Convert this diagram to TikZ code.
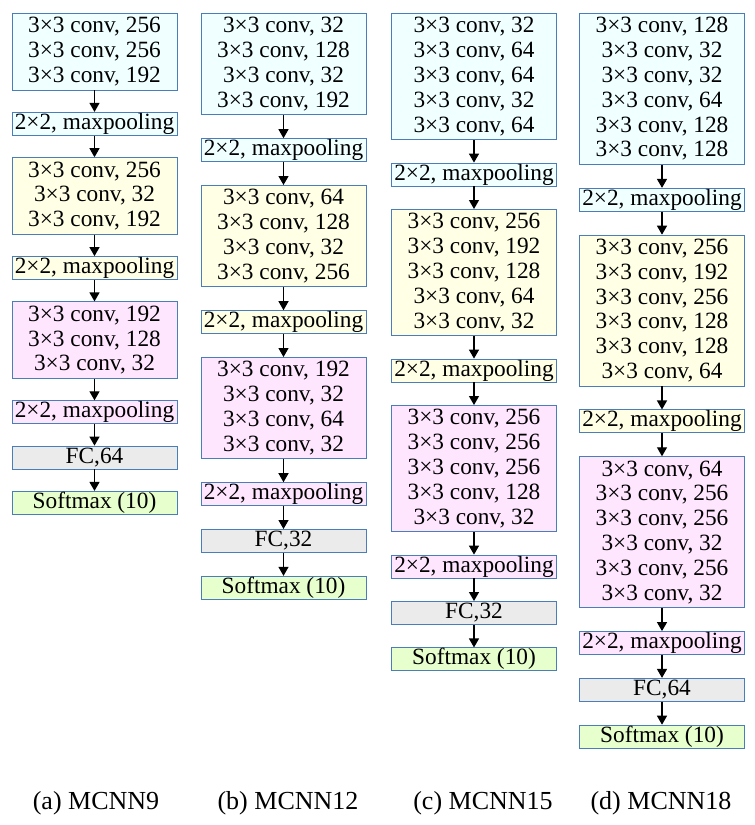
\documentclass[tikz,border=0pt]{standalone}
\usepackage{fontspec}
\setmainfont{Liberation Serif}
\usepackage{xcolor}
\usetikzlibrary{arrows.meta, positioning}

\definecolor{bordblue}{HTML}{4A7EBB}
\definecolor{cyanfill}{HTML}{F0FFFF}
\definecolor{yelfill}{HTML}{FFFFE6}
\definecolor{pinkfill}{HTML}{FFE6FF}
\definecolor{grayfill}{HTML}{EBEBEB}
\definecolor{greenfill}{HTML}{E6FFCC}

\tikzset{
    layer/.style={draw=bordblue, line width=0.8pt, minimum width=165pt, align=center,
        inner xsep=1pt, font=\fontsize{23.3}{24.8}\selectfont},
    convbox/.style={layer, inner ysep=4pt},
    poolbox/.style={layer, text height=16pt, text depth=5pt, inner ysep=1pt},
    arr/.style={-{Triangle[width=10pt,length=9pt]}, line width=1.2pt},
    caption/.style={font=\fontsize{26}{30}\selectfont}
}

\begin{document}
\begin{tikzpicture}[x=1pt, y=1pt, node distance=23pt]
    \useasboundingbox (0,0) rectangle (755,-825);

    % (a) MCNN9
    \begin{scope}[node distance=21.5pt]
    \node[convbox, fill=cyanfill, anchor=north] (a1) at (94.5,-13)
        {3×3 conv, 256\\3×3 conv, 256\\3×3 conv, 192};
    \node[poolbox, fill=cyanfill, below=of a1] (a2) {2×2, maxpooling};
    \node[convbox, fill=yelfill, below=of a2] (a3)
        {3×3 conv, 256\\3×3 conv, 32\\3×3 conv, 192};
    \node[poolbox, fill=yelfill, below=of a3] (a4) {2×2, maxpooling};
    \node[convbox, fill=pinkfill, below=of a4] (a5)
        {3×3 conv, 192\\3×3 conv, 128\\3×3 conv, 32};
    \node[poolbox, fill=pinkfill, below=of a5] (a6) {2×2, maxpooling};
    \node[poolbox, fill=grayfill, below=of a6] (a7) {FC,64};
    \node[poolbox, fill=greenfill, below=of a7] (a8) {Softmax (10)};
    \end{scope}

    % (b) MCNN12
    \node[convbox, fill=cyanfill, anchor=north] (b1) at (283.5,-13)
        {3×3 conv, 32\\3×3 conv, 128\\3×3 conv, 32\\3×3 conv, 192};
    \node[poolbox, fill=cyanfill, below=of b1] (b2) {2×2, maxpooling};
    \node[convbox, fill=yelfill, below=of b2] (b3)
        {3×3 conv, 64\\3×3 conv, 128\\3×3 conv, 32\\3×3 conv, 256};
    \node[poolbox, fill=yelfill, below=of b3] (b4) {2×2, maxpooling};
    \node[convbox, fill=pinkfill, below=of b4] (b5)
        {3×3 conv, 192\\3×3 conv, 32\\3×3 conv, 64\\3×3 conv, 32};
    \node[poolbox, fill=pinkfill, below=of b5] (b6) {2×2, maxpooling};
    \node[poolbox, fill=grayfill, below=of b6] (b7) {FC,32};
    \node[poolbox, fill=greenfill, below=of b7] (b8) {Softmax (10)};

    % (c) MCNN15
    \begin{scope}[node distance=22.6pt]
    \node[convbox, fill=cyanfill, anchor=north] (c1) at (474,-13)
        {3×3 conv, 32\\3×3 conv, 64\\3×3 conv, 64\\3×3 conv, 32\\3×3 conv, 64};
    \node[poolbox, fill=cyanfill, below=of c1] (c2) {2×2, maxpooling};
    \node[convbox, fill=yelfill, below=of c2] (c3)
        {3×3 conv, 256\\3×3 conv, 192\\3×3 conv, 128\\3×3 conv, 64\\3×3 conv, 32};
    \node[poolbox, fill=yelfill, below=of c3] (c4) {2×2, maxpooling};
    \node[convbox, fill=pinkfill, below=of c4] (c5)
        {3×3 conv, 256\\3×3 conv, 256\\3×3 conv, 256\\3×3 conv, 128\\3×3 conv, 32};
    \node[poolbox, fill=pinkfill, below=of c5] (c6) {2×2, maxpooling};
    \node[poolbox, fill=grayfill, below=of c6] (c7) {FC,32};
    \node[poolbox, fill=greenfill, below=of c7] (c8) {Softmax (10)};
    \end{scope}

    % (d) MCNN18
    \node[convbox, fill=cyanfill, anchor=north] (d1) at (662,-13)
        {3×3 conv, 128\\3×3 conv, 32\\3×3 conv, 32\\3×3 conv, 64\\3×3 conv, 128\\3×3 conv, 128};
    \node[poolbox, fill=cyanfill, below=of d1] (d2) {2×2, maxpooling};
    \node[convbox, fill=yelfill, below=of d2] (d3)
        {3×3 conv, 256\\3×3 conv, 192\\3×3 conv, 256\\3×3 conv, 128\\3×3 conv, 128\\3×3 conv, 64};
    \node[poolbox, fill=yelfill, below=of d3] (d4) {2×2, maxpooling};
    \node[convbox, fill=pinkfill, below=of d4] (d5)
        {3×3 conv, 64\\3×3 conv, 256\\3×3 conv, 256\\3×3 conv, 32\\3×3 conv, 256\\3×3 conv, 32};
    \node[poolbox, fill=pinkfill, below=of d5] (d6) {2×2, maxpooling};
    \node[poolbox, fill=grayfill, below=of d6] (d7) {FC,64};
    \node[poolbox, fill=greenfill, below=of d7] (d8) {Softmax (10)};

    % 箭头
    \foreach \c in {a,b,c,d} {
        \foreach \i [evaluate=\i as \j using int(\i+1)] in {1,...,7} {
            \draw[arr] (\c\i) -- (\c\j);
        }
    }

    % 子图标题
    \node[caption] (capa) at (96,-803) {(a) MCNN9};
    \node[caption] (capb) at (288,-803) {(b) MCNN12};
    \node[caption] (capc) at (483,-803) {(c) MCNN15};
    \node[caption] (capd) at (661,-803) {(d) MCNN18};
\end{tikzpicture}
\end{document}
